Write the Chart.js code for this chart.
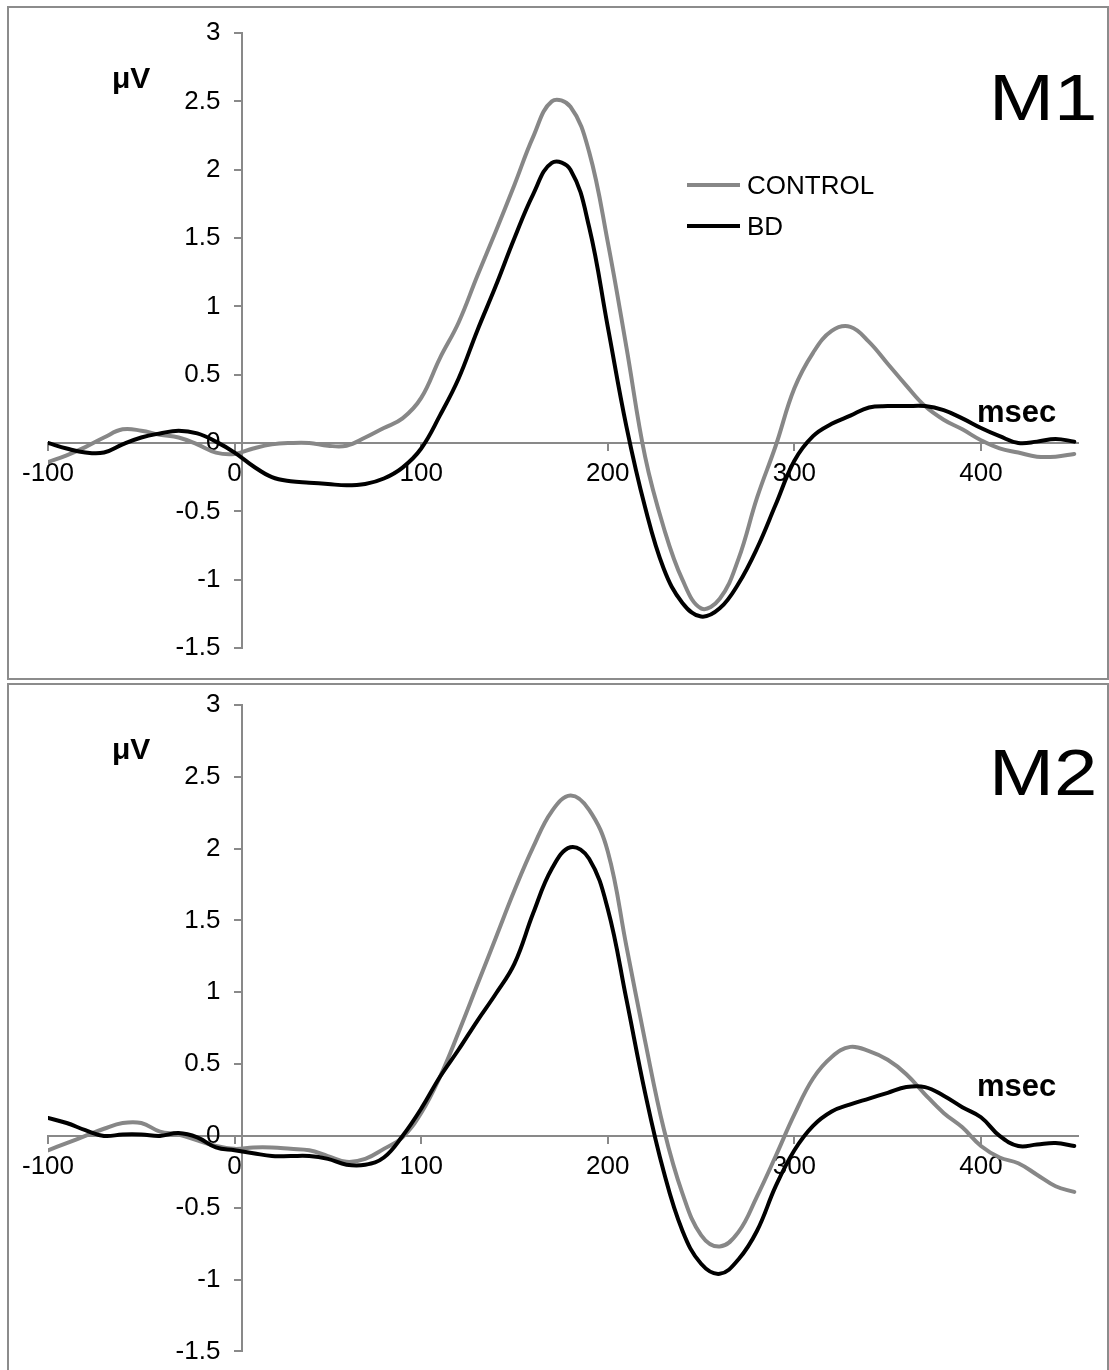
<!DOCTYPE html>
<html>
<head>
<meta charset="utf-8">
<script src="https://cdn.jsdelivr.net/npm/chart.js@4.4.1/dist/chart.umd.min.js"></script>
<style>
  body { margin: 0; background: #fff; width: 1109px; height: 1370px; overflow: hidden; position: relative;
         font-family: "Liberation Sans", Arial, sans-serif; color: #000; }
  .panel { position: absolute; left: 7px; border: 2px solid #8c8c8c; box-sizing: border-box; }
  #p1 { top: 6px; width: 1102px; height: 674px; }
  #p2 { top: 683px; width: 1102px; height: 720px; }
  canvas { position: absolute; left: 0; }
  #c1 { top: 0; }
  #c2 { top: 684px; }
  .txt { position: absolute; white-space: nowrap; line-height: 1; }
  .unit { font-weight: bold; font-size: 30px; }
  .ms { font-weight: bold; font-size: 31px; }
  .big { font-size: 65px; transform: scaleX(1.2); transform-origin: left top; }
  #legend { position: absolute; left: 687px; top: 172px; font-size: 26px; line-height: 1; }
  .item { display: flex; align-items: center; height: 26px; margin-bottom: 15px; }
  .swatch { width: 53px; height: 4px; margin-right: 7px; }
</style>
</head>
<body>
<div class="panel" id="p1"></div>
<div class="panel" id="p2"></div>
<canvas id="c1" width="1109" height="680"></canvas>
<canvas id="c2" width="1109" height="686"></canvas>

<div class="txt unit" style="left:112px;top:63px;">μV</div>
<div class="txt big" style="left:989px;top:65px;">M1</div>
<div class="txt ms" style="left:977px;top:396px;">msec</div>

<div class="txt unit" style="left:112px;top:734px;">μV</div>
<div class="txt big" style="left:989px;top:740px;">M2</div>
<div class="txt ms" style="left:977px;top:1070px;">msec</div>

<div id="legend"></div>

<script>
// time points in msec
const times = [-100, -90, -80, -70, -60, -50, -40, -30, -20, -10,
  0, 10, 20, 30, 40, 50, 60, 70, 80, 90,
  100, 110, 120, 130, 140, 150, 160, 170, 180, 190,
  200, 210, 220, 230, 240, 250, 260, 270, 280, 290,
  300, 310, 320, 330, 340, 350, 360, 370, 380, 390,
  400, 410, 420, 430, 440, 450];

// M1 (µV)
const m1Control = [-0.14, -0.09, -0.03, 0.04, 0.10, 0.09, 0.06, 0.04, -0.01, -0.07,
  -0.08, -0.04, -0.01, 0.0, 0.0, -0.02, -0.02, 0.04, 0.11, 0.18,
  0.33, 0.62, 0.88, 1.22, 1.55, 1.89, 2.24, 2.50, 2.46, 2.13,
  1.47, 0.70, -0.10, -0.62, -1.00, -1.21, -1.14, -0.85, -0.40, -0.02,
  0.40, 0.66, 0.82, 0.85, 0.74, 0.58, 0.42, 0.27, 0.17, 0.10,
  0.02, -0.04, -0.07, -0.10, -0.10, -0.08];
const m1BD = [0.0, -0.04, -0.07, -0.07, -0.01, 0.04, 0.07, 0.09, 0.07, 0.01,
  -0.07, -0.17, -0.25, -0.28, -0.29, -0.30, -0.31, -0.30, -0.26, -0.18,
  -0.04, 0.20, 0.47, 0.82, 1.15, 1.50, 1.82, 2.05, 2.00, 1.58,
  0.85, 0.12, -0.47, -0.92, -1.17, -1.27, -1.21, -1.03, -0.77, -0.45,
  -0.13, 0.05, 0.14, 0.20, 0.26, 0.27, 0.27, 0.27, 0.24, 0.18,
  0.11, 0.05, 0.0, 0.01, 0.03, 0.01];

// M2 (µV)
const m2Control = [-0.10, -0.05, 0.0, 0.05, 0.09, 0.09, 0.03, 0.01, -0.03, -0.07,
  -0.09, -0.08, -0.08, -0.09, -0.10, -0.14, -0.18, -0.16, -0.09, -0.01,
  0.16, 0.41, 0.72, 1.05, 1.38, 1.71, 2.01, 2.26, 2.37, 2.27,
  1.98, 1.32, 0.66, 0.05, -0.40, -0.69, -0.77, -0.67, -0.42, -0.14,
  0.15, 0.40, 0.55, 0.62, 0.59, 0.53, 0.43, 0.29, 0.16, 0.06,
  -0.07, -0.15, -0.19, -0.27, -0.35, -0.39];
const m2BD = [0.125, 0.09, 0.04, 0.0, 0.01, 0.01, 0.0, 0.02, -0.01, -0.08,
  -0.10, -0.12, -0.14, -0.14, -0.14, -0.16, -0.20, -0.20, -0.15, 0.0,
  0.19, 0.41, 0.60, 0.80, 0.99, 1.20, 1.55, 1.86, 2.01, 1.93,
  1.58, 0.95, 0.30, -0.25, -0.66, -0.89, -0.96, -0.86, -0.66, -0.35,
  -0.10, 0.07, 0.17, 0.22, 0.26, 0.30, 0.34, 0.34, 0.28, 0.20,
  0.13, 0.0, -0.07, -0.06, -0.05, -0.07];

const seriesNames = ['CONTROL', 'BD'];
const seriesColors = ['#878787', '#000000'];
const yMin = -1.5, yMax = 3, yStep = 0.5;
const xMin = -100, xMax = 452, xStep = 100;

const tickFont = { family: '"Liberation Sans", Arial, sans-serif', size: 26 };
const axisGray = '#898989';

function points(vals) {
  return vals.map((v, i) => ({ x: times[i], y: v }));
}

function makeChart(id, control, bd, pad) {
  return new Chart(document.getElementById(id), {
    type: 'line',
    data: {
      datasets: [
        { label: seriesNames[0], data: points(control), borderColor: seriesColors[0], order: 1 },
        { label: seriesNames[1], data: points(bd), borderColor: seriesColors[1], order: 0 }
      ]
    },
    options: {
      responsive: false,
      animation: false,
      devicePixelRatio: 1,
      layout: { padding: pad },
      elements: {
        line: { borderWidth: 4, tension: 0.4, borderCapStyle: 'round', borderJoinStyle: 'round' },
        point: { radius: 0 }
      },
      plugins: { legend: { display: false }, tooltip: { enabled: false } },
      scales: {
        x: {
          type: 'linear', min: xMin, max: xMax, position: { y: 0 },
          ticks: { stepSize: xStep, includeBounds: false, font: tickFont, color: '#000',
                   padding: 8, maxRotation: 0, autoSkip: false },
          grid: { drawOnChartArea: false, tickLength: 7, color: axisGray, lineWidth: 2 },
          border: { color: axisGray, width: 2 }
        },
        y: {
          type: 'linear', min: yMin, max: yMax, position: { x: 4 },
          ticks: { stepSize: yStep, font: tickFont, color: '#000',
                   callback: v => String(v) + '   ' },
          grid: { drawOnChartArea: false, tickLength: 7, color: axisGray, lineWidth: 2 },
          border: { color: axisGray, width: 2 }
        }
      }
    }
  });
}

const chart1 = makeChart('c1', m1Control, m1BD, { left: 48, right: 31, top: 33, bottom: 32 });
const chart2 = makeChart('c2', m2Control, m2BD, { left: 48, right: 31, top: 21, bottom: 17 });

// legend (top panel only)
const legend = document.getElementById('legend');
chart1.data.datasets.forEach(ds => {
  const item = document.createElement('div');
  item.className = 'item';
  item.innerHTML = `<span class="swatch" style="background:${ds.borderColor}"></span><span>${ds.label}</span>`;
  legend.appendChild(item);
});
</script>
</body>
</html>
